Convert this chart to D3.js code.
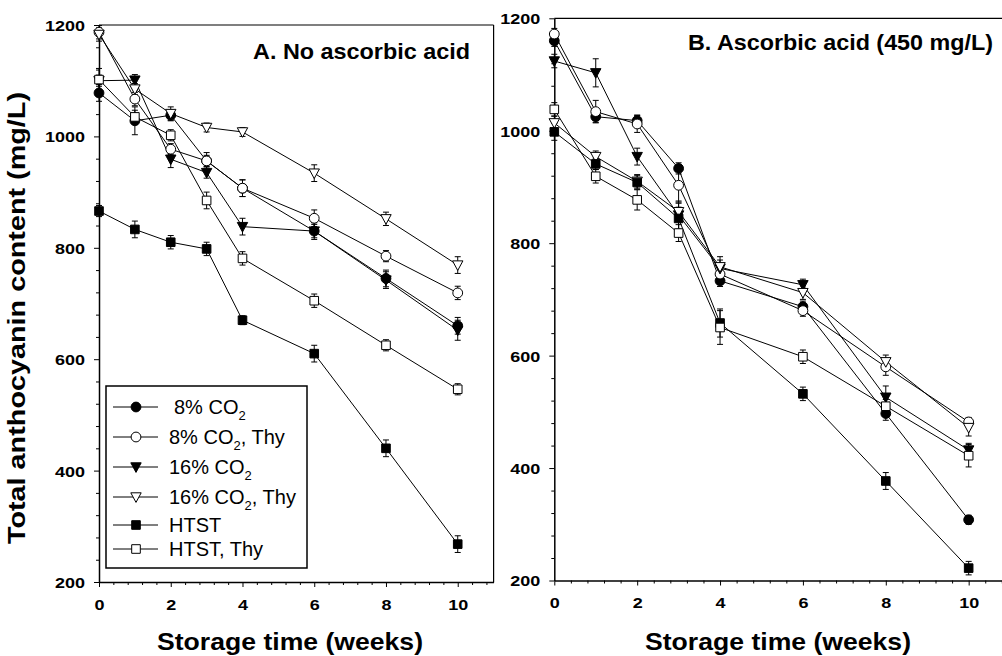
<!DOCTYPE html>
<html><head><meta charset="utf-8">
<script src="https://cdn.jsdelivr.net/npm/d3@7"></script>
<style>
html,body{margin:0;padding:0;background:#fff;}
svg{display:block;font-family:"Liberation Sans",Arial,Helvetica,sans-serif;}
</style></head>
<body><svg id="c" width="1002" height="656"></svg>
<script>
// ---------- data ----------
const weeks = [0, 1, 2, 3, 4, 6, 8, 10];
const seriesLabels = [["8% CO", "2", ""], ["8% CO", "2", ", Thy"], ["16% CO", "2", ""], ["16% CO", "2", ", Thy"], ["HTST", "", ""], ["HTST, Thy", "", ""]];
const seriesShapes = ["circle", "circle", "triDown", "triDown", "square", "square"];
const seriesFilled = [true, false, true, false, true, false];

// Panel A: No ascorbic acid
const aCO2_8      = [1078, 1028, 1038, 956, 907, 830, 745, 660];
const aCO2_8Thy   = [1187, 1067, 977, 956, 907, 853, 785, 719];
const aCO2_16     = [1100, 1101, 959, 935, 838, 830, 742, 652];
const aCO2_16Thy  = [1183, 1085, 1041, 1016, 1008, 934, 852, 769];
const aHTST       = [866, 833, 810, 798, 670, 610, 440, 268];
const aHTSTThy    = [1102, 1035, 1002, 885, 781, 705, 625, 546];
const aErrCO2_8     = [15, 25, 10, 10, 15, 15, 15, 15];
const aErrCO2_8Thy  = [12, 12, 10, 15, 15, 15, 10, 12];
const aErrCO2_16    = [10, 10, 15, 10, 15, 12, 15, 18];
const aErrCO2_16Thy = [12, 10, 12, 8, 8, 15, 12, 15];
const aErrHTST      = [10, 15, 12, 12, 8, 15, 15, 15];
const aErrHTSTThy   = [20, 12, 10, 15, 12, 12, 10, 10];

// Panel B: Ascorbic acid (450 mg/L)
const bCO2_8      = [1160, 1025, 1018, 933, 733, 687, 497, 308];
const bCO2_8Thy   = [1172, 1034, 1012, 903, 745, 680, 580, 482];
const bCO2_16     = [1124, 1103, 954, 850, 755, 726, 526, 432];
const bCO2_16Thy  = [1014, 954, 910, 856, 758, 712, 589, 472];
const bHTST       = [998, 941, 908, 844, 658, 532, 377, 222];
const bHTSTThy    = [1038, 919, 877, 818, 650, 598, 510, 422];
const bErrCO2_8     = [10, 10, 10, 10, 10, 10, 12, 8];
const bErrCO2_8Thy  = [10, 20, 15, 30, 12, 10, 15, 8];
const bErrCO2_16    = [12, 25, 15, 25, 15, 10, 20, 12];
const bErrCO2_16Thy = [12, 10, 12, 15, 18, 12, 12, 15];
const bErrHTST      = [15, 10, 12, 20, 25, 12, 15, 12];
const bErrHTSTThy   = [12, 12, 18, 15, 30, 12, 12, 20];

const yMajorTicks = [200, 400, 600, 800, 1000, 1200];
const xMajorTicks = [0, 2, 4, 6, 8, 10];
const panelTitles = ["A. No ascorbic acid", "B. Ascorbic acid (450 mg/L)"];
const xTitle = "Storage time (weeks)";
const yTitle = "Total anthocyanin content (mg/L)";

// ---------- drawing ----------
const svg = d3.select("#c");
const FONT = '"Liberation Sans",Arial,Helvetica,sans-serif';

const panels = [
  { values: [aCO2_8, aCO2_8Thy, aCO2_16, aCO2_16Thy, aHTST, aHTSTThy],
    errors: [aErrCO2_8, aErrCO2_8Thy, aErrCO2_16, aErrCO2_16Thy, aErrHTST, aErrHTSTThy],
    x0: 99, x1: 493.6, y0: 582, y1: 25, frameRight: true,
    title: panelTitles[0], titleX: 253, titleY: 59, titleLen: 217,
    xTitleCx: 290, legend: true },
  { values: [bCO2_8, bCO2_8Thy, bCO2_16, bCO2_16Thy, bHTST, bHTSTThy],
    errors: [bErrCO2_8, bErrCO2_8Thy, bErrCO2_16, bErrCO2_16Thy, bErrHTST, bErrHTSTThy],
    x0: 554.3, x1: 1010.1, y0: 580.5, y1: 18.3, frameRight: false,
    title: panelTitles[1], titleX: 688, titleY: 50, titleLen: 305,
    xTitleCx: 778, legend: false }
];

function markerPath(shape) {
  if (shape === "circle") return d3.symbol(d3.symbolCircle, Math.PI * 4.9 * 4.9)();
  if (shape === "square") return "M-4.3,-4.3H4.3V4.3H-4.3Z";
  return "M-5.2,-4.2L5.2,-4.2L0,5.4Z";
}

function minorRange(a, b, step) {
  const out = [];
  for (let v = a; v <= b + 1e-9; v += step) out.push(+v.toFixed(4));
  return out;
}

panels.forEach(p => {
  const x = d3.scaleLinear().domain([0, 11]).range([p.x0, p.x1]);
  const y = d3.scaleLinear().domain([200, 1200]).range([p.y0, p.y1]);
  const g = svg.append("g");

  // frame
  g.append("line").attr("x1", p.x0).attr("x2", p.x1).attr("y1", p.y1).attr("y2", p.y1)
    .attr("stroke", "#000").attr("stroke-width", 1.2);
  if (p.frameRight) g.append("line").attr("x1", p.x1).attr("x2", p.x1).attr("y1", p.y1).attr("y2", p.y0)
    .attr("stroke", "#000").attr("stroke-width", 1.2);

  // minor ticks
  const xMinor = minorRange(0, 10.8, 0.4).filter(v => !xMajorTicks.some(t => Math.abs(t - v) < 1e-6));
  const yMinor = minorRange(200, 1200, 40).filter(v => !yMajorTicks.includes(v));
  g.append("g").attr("transform", `translate(0,${p.y0})`)
    .call(d3.axisBottom(x).tickValues(xMinor).tickSize(3).tickFormat(""))
    .call(s => s.select(".domain").remove());
  g.append("g").attr("transform", `translate(${p.x0},0)`)
    .call(d3.axisLeft(y).tickValues(yMinor).tickSize(3).tickFormat(""))
    .call(s => s.select(".domain").remove());

  // major axes
  const xa = g.append("g").attr("transform", `translate(0,${p.y0})`)
    .call(d3.axisBottom(x).tickValues(xMajorTicks).tickSize(5).tickSizeOuter(0).tickPadding(12)
      .tickFormat(d => String(d)));
  const ya = g.append("g").attr("transform", `translate(${p.x0},0)`)
    .call(d3.axisLeft(y).tickValues(yMajorTicks).tickSize(5).tickSizeOuter(0).tickPadding(9)
      .tickFormat(d => String(d)));
  [xa, ya].forEach(a => {
    a.select(".domain").attr("stroke-width", 1.5);
    a.selectAll("text").attr("font-family", FONT).attr("font-weight", "bold").attr("font-size", 15)
      .attr("fill", "#000")
      .attr("textLength", d => String(d).length * 10)
      .attr("lengthAdjust", "spacingAndGlyphs");
  });
  xa.selectAll("text").attr("dy", "0.71em");
  ya.selectAll("text").attr("dy", "0.36em");

  // series lines
  const line = d3.line().x((d, i) => x(weeks[i])).y(d => y(d));
  p.values.forEach(vals => {
    g.append("path").attr("d", line(vals)).attr("fill", "none")
      .attr("stroke", "#000").attr("stroke-width", 1);
  });

  // error bars
  p.values.forEach((vals, si) => {
    const errs = p.errors[si];
    vals.forEach((v, i) => {
      const cx = x(weeks[i]);
      const yt = y(v + errs[i]), yb = y(v - errs[i]);
      g.append("line").attr("x1", cx).attr("x2", cx).attr("y1", yt).attr("y2", yb)
        .attr("stroke", "#000").attr("stroke-width", 1);
      [yt, yb].forEach(yy => g.append("line").attr("x1", cx - 3).attr("x2", cx + 3)
        .attr("y1", yy).attr("y2", yy).attr("stroke", "#000").attr("stroke-width", 1));
    });
  });

  // markers
  p.values.forEach((vals, si) => {
    g.selectAll(null).data(vals).enter().append("path")
      .attr("d", markerPath(seriesShapes[si]))
      .attr("transform", (d, i) => `translate(${x(weeks[i])},${y(d)})`)
      .attr("fill", seriesFilled[si] ? "#000" : "#fff")
      .attr("stroke", "#000").attr("stroke-width", 1);
  });

  // panel title
  g.append("text").attr("x", p.titleX).attr("y", p.titleY)
    .attr("font-family", FONT).attr("font-weight", "bold").attr("font-size", 21.5)
    .attr("textLength", p.titleLen).attr("lengthAdjust", "spacingAndGlyphs")
    .text(p.title);

  // x title
  g.append("text").attr("x", p.xTitleCx).attr("y", 650).attr("text-anchor", "middle")
    .attr("font-family", FONT).attr("font-weight", "bold").attr("font-size", 24.5)
    .attr("textLength", 266).attr("lengthAdjust", "spacingAndGlyphs")
    .text(xTitle);

  // legend
  if (p.legend) {
    const lg = g.append("g");
    lg.append("rect").attr("x", 106).attr("y", 386).attr("width", 201).attr("height", 182)
      .attr("fill", "#fff").attr("stroke", "#000").attr("stroke-width", 1.5);
    const rowY = [407, 437, 467, 497, 525, 549];
    seriesLabels.forEach((lab, si) => {
      const ry = rowY[si];
      lg.append("line").attr("x1", 113).attr("x2", 158).attr("y1", ry).attr("y2", ry)
        .attr("stroke", "#000").attr("stroke-width", 1);
      lg.append("path").attr("d", markerPath(seriesShapes[si]))
        .attr("transform", `translate(136,${ry})`)
        .attr("fill", seriesFilled[si] ? "#000" : "#fff")
        .attr("stroke", "#000").attr("stroke-width", 1);
      const t = lg.append("text").attr("x", si === 0 ? 174 : 169).attr("y", ry + 7)
        .attr("font-family", FONT).attr("font-size", 20);
      t.append("tspan").text(lab[0]);
      if (lab[1]) t.append("tspan").attr("font-size", 13).attr("dy", 6).text(lab[1]);
      if (lab[2]) t.append("tspan").attr("dy", lab[1] ? -6 : 0).text(lab[2]);
    });
  }
});

// y title
svg.append("text").attr("transform", "translate(25,318) rotate(-90)")
  .attr("text-anchor", "middle").attr("font-family", FONT).attr("font-weight", "bold")
  .attr("font-size", 24).attr("textLength", 452).attr("lengthAdjust", "spacingAndGlyphs")
  .text(yTitle);
</script></body></html>
